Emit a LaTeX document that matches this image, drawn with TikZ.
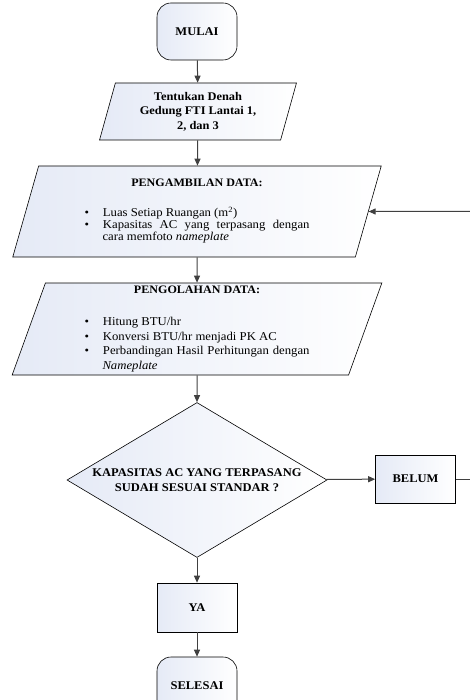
\documentclass[tikz,border=0pt]{standalone}
\usepackage{fontspec}
\setmainfont{Liberation Serif}[FakeStretch=1.06]
\usepackage{tikz}
\usetikzlibrary{shapes.geometric, arrows.meta}

\definecolor{shadeblue}{RGB}{229,234,246}

\newenvironment{bulletlist}{%
  \begin{list}{\textbullet}{%
    \setlength{\leftmargin}{18pt}\setlength{\labelwidth}{4pt}%
    \setlength{\labelsep}{14pt}\setlength{\itemsep}{0pt}%
    \setlength{\parsep}{0pt}\setlength{\topsep}{0pt}%
    \setlength{\partopsep}{0pt}}}%
  {\end{list}}

\begin{document}
\begin{tikzpicture}[x=1pt, y=-1pt,
  shape box/.style={draw, line width=0.6pt, left color=shadeblue, right color=white},
  startstop/.style={shape box, rectangle, rounded corners=14pt, minimum width=80pt, minimum height=57pt, font=\fontsize{11.8}{14}\selectfont\bfseries},
  io/.style={shape box, trapezium, trapezium left angle=74, trapezium right angle=106, trapezium stretches=true, inner sep=0pt},
  process/.style={shape box, rectangle, minimum width=80pt, minimum height=48pt, font=\fontsize{11.8}{14}\selectfont\bfseries},
  decision/.style={shape box, diamond, aspect=1.68, inner sep=0pt, minimum width=260pt, minimum height=155pt, align=center, font=\fontsize{11.8}{15}\selectfont\bfseries},
  arrow/.style={draw=black!75, line width=1pt, -{Triangle[length=7pt, width=6pt]}},
  line/.style={draw=black!75, line width=1pt}]
\clip (0,0) rectangle (470,700);

\node [startstop] (mulai) at (197,31.5) {MULAI};
\node [io, minimum width=197pt, minimum height=57pt, align=center,
  font=\fontsize{11.7}{14.5}\selectfont\bfseries] (denah) at (198,111.5)
  {Tentukan Denah\\Gedung FTI Lantai 1,\\2, dan 3};
\node [io, minimum width=369pt, minimum height=91pt, text width=225pt, align=justify,
  font=\fontsize{12}{12}\selectfont] (ambil) at (197,211.5)
  {\centerline{\fontsize{11.4}{12}\selectfont\bfseries PENGAMBILAN DATA:}\par\vspace{18pt}
   \begin{bulletlist}
   \item Luas Setiap Ruangan (m\textsuperscript{2})
   \item Kapasitas AC yang terpasang dengan\linebreak cara memfoto \textit{nameplate}
   \end{bulletlist}};
\node [io, minimum width=371pt, minimum height=92pt, text width=225pt, align=justify,
  font=\fontsize{12}{14.5}\selectfont] (olah) at (197,329)
  {\centerline{\fontsize{11.4}{12}\selectfont\bfseries PENGOLAHAN DATA:}\par\vspace{18pt}
   \begin{bulletlist}
   \item Hitung BTU/hr
   \item Konversi BTU/hr menjadi PK AC
   \item Perbandingan Hasil Perhitungan dengan\linebreak \textit{Nameplate}
   \end{bulletlist}};
\node [decision] (cek) at (197,480) {KAPASITAS AC YANG TERPASANG\\SUDAH SESUAI STANDAR ?};
\node [process] (belum) at (415.5,479) {BELUM};
\node [process, minimum height=49pt] (ya) at (197,607.5) {YA};
\node [startstop] (selesai) at (197,685.5) {SELESAI};
\coordinate (belumout) at (470,479);
\coordinate (balik) at (470,211.5);

\draw [arrow] (mulai) -- (denah);
\draw [arrow] (denah) -- (ambil);
\draw [arrow] (ambil) -- (olah);
\draw [arrow] (olah) -- (cek);
\draw [arrow] (cek) -- (belum);
\draw [line] (belum) -- (belumout);
\draw [arrow] (balik) -- (ambil.east);
\draw [arrow] (cek) -- (ya);
\draw [arrow] (ya) -- (selesai);
\end{tikzpicture}
\end{document}
